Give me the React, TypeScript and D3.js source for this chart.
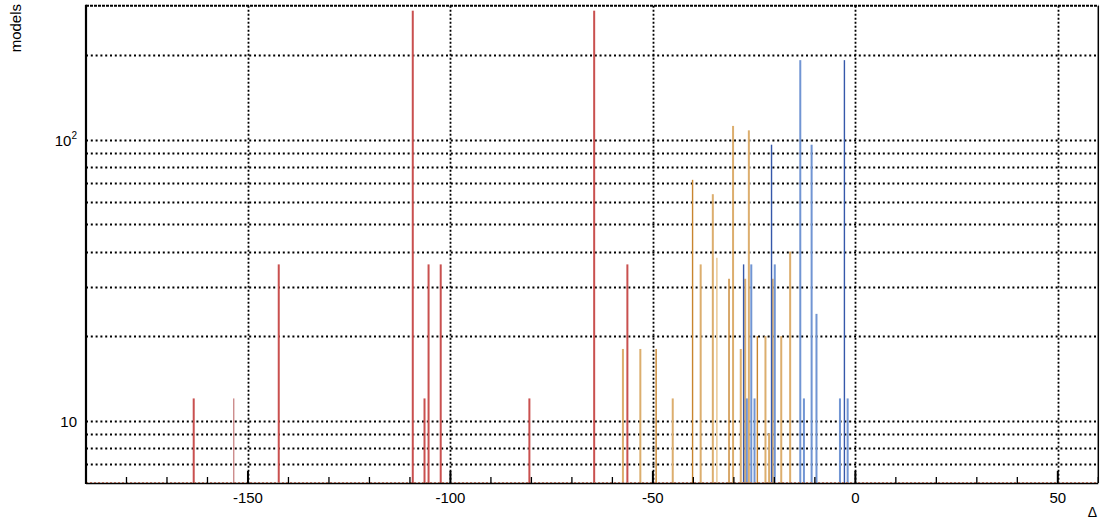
import React from "react";
import * as d3 from "d3";

// Δ positions and model counts per colour series
const redDelta = [-163.4, -142.4, -109.3, -106.4, -105.4, -102.4, -80.5, -64.5, -56.3];
const redCount = [12, 36, 288, 12, 36, 36, 12, 288, 36];

const thinRedDelta = [-153.5];
const thinRedCount = [12];

const tanDelta = [-57.4, -53.1, -45.1, -38.2, -35.2, -30.2, -28.3, -27.2, -26.3, -22.2, -21.3, -20.4, -18.3, -16.1];
const tanCount = [18, 18, 12, 36, 64, 112, 18, 32, 108, 20, 9, 32, 20, 40];

const paleDelta = [-34.2];
const paleCount = [38];

const orangeDelta = [-49.2, -40.2, -31.2, -24.2];
const orangeCount = [18, 72, 32, 20];

const lightBlueDelta = [-26.8, -25.7, -24.9, -19.9, -13.6, -12.7, -10.8, -9.6, -3.8, -1.9];
const lightBlueCount = [12, 36, 12, 36, 192, 12, 96, 24, 12, 12];

const darkBlueDelta = [-27.6, -20.7, -2.7];
const darkBlueCount = [36, 96, 192];

const xTickValues = [-150, -100, -50, 0, 50];
const yGridValues = [7, 8, 9, 10, 20, 30, 40, 50, 60, 70, 80, 90, 100, 200];

const series = [
  { delta: redDelta, count: redCount, color: "#c9504f", width: 2 },
  { delta: thinRedDelta, count: thinRedCount, color: "#b86060", width: 1 },
  { delta: tanDelta, count: tanCount, color: "#dcae6e", width: 2 },
  { delta: paleDelta, count: paleCount, color: "#ebcb9c", width: 1.6 },
  { delta: orangeDelta, count: orangeCount, color: "#c8852f", width: 1.4 },
  { delta: lightBlueDelta, count: lightBlueCount, color: "#7195d3", width: 2 },
  { delta: darkBlueDelta, count: darkBlueCount, color: "#3558aa", width: 1.4 },
];

export default function App() {
  const W = 1101, H = 521;
  const left = 86, right = 1098.3, top = 5.7, bottom = 483;
  const x = d3.scaleLinear().domain([-190, 60]).range([left, right]);
  const y = d3.scaleLog().domain([6, 300]).range([bottom, top]);
  const minorTicks = d3.range(-180, 61, 10).filter((v) => v % 50 !== 0);
  const font = "Liberation Sans, Arial, sans-serif";

  return (
    <svg width={W} height={H} style={{ position: "absolute", left: 0, top: 0, background: "#fff" }}>
      {/* horizontal grid */}
      {yGridValues.map((v) => (
        <line key={"hg" + v} x1={left} x2={right} y1={Math.round(y(v)) + 0.5} y2={Math.round(y(v)) + 0.5} stroke="#000" strokeWidth={1.8} strokeDasharray="2 2.8" />
      ))}
      {/* vertical grid */}
      {xTickValues.map((v) => (
        <line key={"vg" + v} x1={Math.round(x(v)) + 0.5} x2={Math.round(x(v)) + 0.5} y1={top} y2={bottom} stroke="#000" strokeWidth={1.8} strokeDasharray="2 2" />
      ))}
      {/* bars */}
      {series.map((s, si) =>
        s.delta.map((d, i) => (
          <rect key={si + "-" + i} x={x(d) - s.width / 2} width={s.width} y={y(s.count[i])} height={bottom - y(s.count[i])} fill={s.color} />
        ))
      )}
      {/* zero-level dotted line */}
      <line x1={left} x2={right} y1={bottom - 0.5} y2={bottom - 0.5} stroke="#e08a70" strokeWidth={1} strokeDasharray="2 2" />
      {/* frame */}
      <line x1={left} x2={right} y1={top} y2={top} stroke="#000" strokeWidth={2} strokeDasharray="3 1" />
      <line x1={right} x2={right} y1={top} y2={bottom} stroke="#000" strokeWidth={1.5} />
      <line x1={left} x2={left} y1={top - 1} y2={bottom + 1} stroke="#000" strokeWidth={2.2} />
      <line x1={left} x2={right} y1={bottom + 0.5} y2={bottom + 0.5} stroke="#000" strokeWidth={1.6} />
      {/* x ticks */}
      {xTickValues.map((v) => (
        <line key={"mt" + v} x1={x(v)} x2={x(v)} y1={bottom} y2={bottom - 12} stroke="#000" strokeWidth={2} />
      ))}
      {minorTicks.map((v) => (
        <line key={"nt" + v} x1={x(v)} x2={x(v)} y1={bottom} y2={bottom - 6} stroke="#000" strokeWidth={1.3} />
      ))}
      {/* x tick labels */}
      {xTickValues.map((v) => (
        <text key={"xl" + v} x={x(v)} y={503} textAnchor="middle" fontFamily={font} fontSize={15} fill="#000">
          {String(v)}
        </text>
      ))}
      {/* y tick labels */}
      <text x={77} y={y(10) + 6} textAnchor="end" fontFamily={font} fontSize={15} fill="#000">10</text>
      <text x={77} y={y(100) + 6} textAnchor="end" fontFamily={font} fontSize={15} fill="#000">
        10<tspan fontSize={10} dy={-7}>2</tspan>
      </text>
      {/* axis titles */}
      <text transform="translate(21,4) rotate(-90)" textAnchor="end" fontFamily={font} fontSize={15} fill="#000">models</text>
      <text x={1097} y={517} textAnchor="end" fontFamily={font} fontSize={14} fill="#000">Δ</text>
    </svg>
  );
}
